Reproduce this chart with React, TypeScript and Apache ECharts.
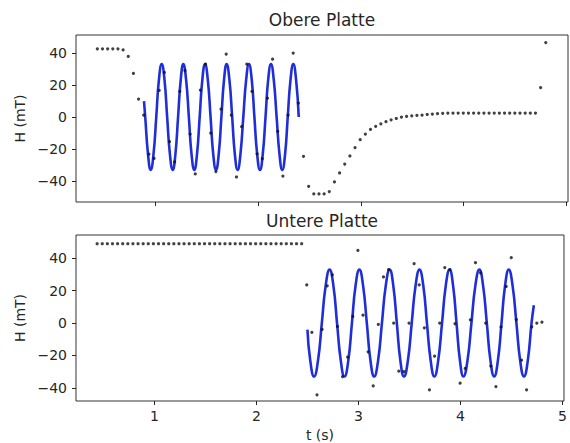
import React, { useEffect, useRef } from "react";
import * as echarts from "echarts";

// sampling of the measured points (regular time grid)
const sampleStart = 0.4393;
const sampleStep = 0.0501;

// Obere Platte: measured H (mT)
const topDots = [
  42.6, 42.6, 42.6, 42.6, 42.6, 41.9, 37.8, 27.2, 11.2, 1.2,
  -23.1, -25.8, 16.6, 27.8, -15.4, -28, 16.0, 29, -10.6, -35.5,
  16.8, 33, -10.0, -34, 5.0, 39.3, 1.2, -37.4, -6.0, 33.0,
  16.0, -23, -26, 11.8, 36.1, -9.0, -36.8, 1.2, 39.9, 8.7,
  -24.5, -43.2, -48, -48, -48, -46.5, -40.5, -34.9, -29.3, -24.3,
  -19.1, -14.1, -10.6, -7.7, -5.8, -4.2, -2.9, -1.7, -0.9, 0,
  0.4, 0.8, 1.0, 1.2, 1.6, 1.9, 2.1, 2.3, 2.5, 2.5,
  2.5, 2.5, 2.5, 2.5, 2.5, 2.5, 2.5, 2.5, 2.5, 2.5,
  2.5, 2.5, 2.5, 2.5, 2.5, 2.5, 18.4, 46.5,
];

// Untere Platte: measured H (mT)
const bottomDots = [
  49, 49, 49, 49, 49, 49, 49, 49, 49, 49,
  49, 49, 49, 49, 49, 49, 49, 49, 49, 49,
  49, 49, 49, 49, 49, 49, 49, 49, 49, 49,
  49, 49, 49, 49, 49, 49, 49, 49, 49, 49,
  49,
  23.6, -5.7, -44.3, -3.9, 23.0, 29.8, -2.1, -33, -21, 4.1,
  44.9, 4.9, -17.7, -38.8, -0.8, 28.5, 33, 0, -29.6, -30,
  0, 36.7, 23.6, -2.9, -41.2, -20.4, 0, 34.3, 33, -0.4,
  -37.1, -28, 2, 37.3, 31, 0, -26.5, -39.2, -2.4, 22.6,
  40.4, 2.2, -22.9, -41.2, -2.4, 0, 0.6,
];

// fitted curves, key points [t (s), H (mT)]
const topFit = [
  [0.893, 10], [0.905, 0], [0.932, -23.3], [0.958, -33], [0.985, -23.3], [1.012, 0],
  [1.038, 23.3], [1.065, 33], [1.092, 23.3], [1.118, 0], [1.145, -23.3], [1.172, -33],
  [1.198, -23.3], [1.224, 0], [1.25, 23.3], [1.275, 33], [1.302, 23.3], [1.329, 0],
  [1.355, -23.3], [1.382, -33], [1.408, -23.3], [1.434, 0], [1.46, 23.3], [1.486, 33],
  [1.513, 23.3], [1.54, 0], [1.566, -23.3], [1.593, -33], [1.619, -23.3], [1.645, 0],
  [1.671, 23.3], [1.696, 33], [1.723, 23.3], [1.75, 0], [1.776, -23.3], [1.803, -33],
  [1.83, -23.3], [1.858, 0], [1.886, 23.3], [1.913, 33], [1.94, 23.3], [1.966, 0],
  [1.993, -23.3], [2.02, -33], [2.047, -23.3], [2.074, 0], [2.1, 23.3], [2.127, 33],
  [2.154, 23.3], [2.182, 0], [2.21, -23.3], [2.237, -33], [2.264, -23.3], [2.29, 0],
  [2.317, 23.3], [2.344, 33], [2.371, 23.3], [2.397, 0],
];

const bottomFit = [
  [2.5, -4], [2.528, -23.3], [2.565, -33], [2.603, -23.3], [2.641, 0], [2.679, 23.3],
  [2.717, 33], [2.754, 23.3], [2.79, 0], [2.827, -23.3], [2.863, -33], [2.9, -23.3],
  [2.936, 0], [2.972, 23.3], [3.009, 33], [3.045, 23.3], [3.082, 0], [3.118, -23.3],
  [3.154, -33], [3.192, -23.3], [3.23, 0], [3.268, 23.3], [3.306, 33], [3.341, 23.3],
  [3.376, 0], [3.411, -23.3], [3.446, -33], [3.484, -23.3], [3.522, 0], [3.56, 23.3],
  [3.598, 33], [3.635, 23.3], [3.671, 0], [3.708, -23.3], [3.744, -33], [3.781, -23.3],
  [3.819, 0], [3.856, 23.3], [3.893, 33], [3.927, 23.3], [3.961, 0], [3.995, -23.3],
  [4.029, -33], [4.068, -23.3], [4.107, 0], [4.146, 23.3], [4.185, 33], [4.221, 23.3],
  [4.258, 0], [4.294, -23.3], [4.33, -33], [4.366, -23.3], [4.402, 0], [4.437, 23.3],
  [4.473, 33], [4.51, 23.3], [4.548, 0], [4.585, -23.3], [4.622, -33], [4.659, -23.3],
  [4.696, 0], [4.719, 11],
];

const xTicks = [1, 2, 3, 4, 5];
const yTicks = [-40, -20, 0, 20, 40];
const titles = ["Obere Platte", "Untere Platte"];
const yName = "H (mT)";
const xName = "t (s)";

const FONT = "DejaVu Sans";
const INK = "#262626";

function toPoints(vals: number[]) {
  return vals.map((v, k) => [sampleStart + sampleStep * k, v]);
}

const fmt = (v: number) => (v < 0 ? "\u2212" + Math.abs(v) : String(v));

export default function App() {
  const ref = useRef<HTMLDivElement>(null);
  useEffect(() => {
    if (!ref.current) return;
    const chart = echarts.init(ref.current, null, { renderer: "svg" });
    const xAxisBase = (gridIndex: number, showLabels: boolean) => ({
      type: "value",
      gridIndex,
      position: "bottom",
      min: 0.232,
      max: 5.014,
      axisLine: { show: false, onZero: false },
      axisTick: { show: true, inside: false, length: 4, customValues: xTicks, lineStyle: { color: INK, width: 1 } },
      axisLabel: {
        show: showLabels,
        customValues: xTicks,
        margin: 8,
        fontFamily: FONT,
        fontSize: 14,
        color: INK,
      },
      splitLine: { show: false },
      ...(showLabels
        ? {
            name: xName,
            nameLocation: "middle",
            nameGap: 27,
            nameTextStyle: { fontFamily: FONT, fontSize: 14, color: INK },
          }
        : {}),
    });
    const yAxisBase = (gridIndex: number, min: number, max: number) => ({
      type: "value",
      gridIndex,
      position: "left",
      min,
      max,
      axisLine: { show: false, onZero: false },
      axisTick: { show: true, inside: false, length: 4, customValues: yTicks, lineStyle: { color: INK, width: 1 } },
      axisLabel: {
        customValues: yTicks,
        margin: 9,
        fontFamily: FONT,
        fontSize: 14,
        color: INK,
        formatter: (v: number) => fmt(v),
      },
      splitLine: { show: false },
      name: yName,
      nameLocation: "middle",
      nameGap: 42,
      nameRotate: 90,
      nameTextStyle: { fontFamily: FONT, fontSize: 14, color: INK },
    });
    chart.setOption({
      animation: false,
      backgroundColor: "#ffffff",
      grid: [
        { left: 76, top: 35, width: 492, height: 167, show: true, borderColor: "#333", borderWidth: 1, backgroundColor: "transparent" },
        { left: 76, top: 235, width: 492, height: 167, show: true, borderColor: "#333", borderWidth: 1, backgroundColor: "transparent" },
      ],
      xAxis: [xAxisBase(0, false), xAxisBase(1, true)],
      yAxis: [yAxisBase(0, -53, 51.2), yAxisBase(1, -48.1, 54.4)],
      graphic: [
        {
          type: "text",
          x: 322,
          y: 20,
          style: { text: titles[0], fontFamily: FONT, fontSize: 17, fill: INK, textAlign: "center", textVerticalAlign: "middle" },
        },
        {
          type: "text",
          x: 322,
          y: 221,
          style: { text: titles[1], fontFamily: FONT, fontSize: 17, fill: INK, textAlign: "center", textVerticalAlign: "middle" },
        },
      ],
      series: [
        {
          type: "line",
          xAxisIndex: 0,
          yAxisIndex: 0,
          data: topFit,
          smooth: 0.5,
          showSymbol: false,
          lineStyle: { color: "#1f2ed8", width: 2.6 },
          z: 2,
        },
        {
          type: "scatter",
          xAxisIndex: 0,
          yAxisIndex: 0,
          data: toPoints(topDots),
          symbol: "circle",
          symbolSize: 3.2,
          itemStyle: { color: "#111" },
          z: 3,
        },
        {
          type: "line",
          xAxisIndex: 1,
          yAxisIndex: 1,
          data: bottomFit,
          smooth: 0.5,
          showSymbol: false,
          lineStyle: { color: "#1f2ed8", width: 2.6 },
          z: 2,
        },
        {
          type: "scatter",
          xAxisIndex: 1,
          yAxisIndex: 1,
          data: toPoints(bottomDots),
          symbol: "circle",
          symbolSize: 3.2,
          itemStyle: { color: "#111" },
          z: 3,
        },
      ],
    });
    return () => chart.dispose();
  }, []);
  return (
    <div
      ref={ref}
      style={{ position: "fixed", left: 0, top: 0, width: 570, height: 443, background: "#fff" }}
    />
  );
}
